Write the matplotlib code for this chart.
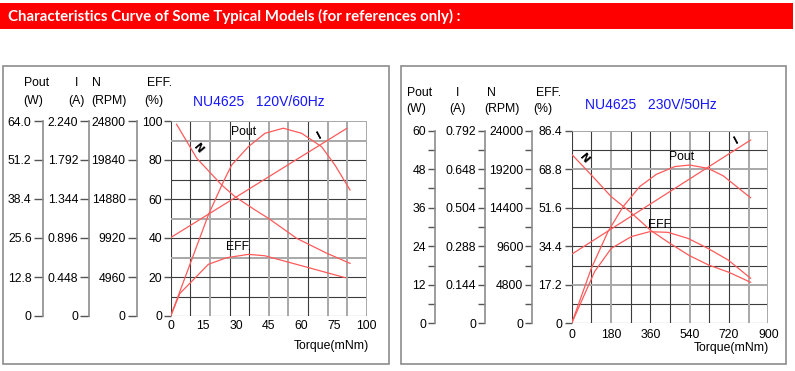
import matplotlib
matplotlib.use('Agg')
import matplotlib.pyplot as plt
import numpy as np
from matplotlib.patches import Rectangle

"""## Globals"""

W, H = 795, 371
NARROW = ['Liberation Sans Narrow', 'Liberation Sans', 'DejaVu Sans']
FS = 8.8
CURVE_COLOR = '#ff5a5a'
DARK_GRID = '#3c3c3c'
GREY_GRID = '#a8a8a8'

HEADER = 'Characteristics Curve of Some Typical Models (for references only) :'

# 120V/60Hz chart (x in chart units, one grid column = 10)
lv_title = 'NU4625   120V/60Hz'
lv_x_ticks = ['0', '15', '30', '45', '60', '75', '100']
lv_pout_scale = ['0', '12.8', '25.6', '38.4', '51.2', '64.0']
lv_i_scale = ['0', '0.448', '0.896', '1.344', '1.792', '2.240']
lv_n_scale = ['0', '4960', '9920', '14880', '19840', '24800']
lv_eff_scale = ['0', '20', '40', '60', '80', '100']

lv_n_x = [3, 13.3, 26, 32.8, 43, 50, 64.3, 79.6, 91.5]
lv_n_y = [98.3, 80.9, 67.2, 61.2, 54.4, 50, 39.8, 32.2, 27]
lv_i_x = [0, 89.8]
lv_i_y = [40.2, 96.2]
lv_pout_x = [0, 9.8, 19.2, 26.9, 31.1, 39.6, 48.1, 57.4, 66.8, 77, 83.8, 91.5]
lv_pout_y = [0, 26.4, 51.8, 68.9, 77.4, 86.8, 93.7, 96.3, 93.7, 86.8, 77.4, 64.6]
lv_eff_x = [0, 4.7, 9.8, 19.2, 28.6, 39.6, 48, 68.5, 88.9]
lv_eff_y = [0, 11.6, 16.8, 26.5, 29.9, 31.6, 30.9, 25.3, 19.7]

# 230V/50Hz chart (x in mNm, y on the EFF scale 0..86.4)
hv_title = 'NU4625   230V/50Hz'
hv_x_ticks = ['0', '180', '360', '540', '720', '900']
hv_pout_scale = ['0', '12', '24', '36', '48', '60']
hv_i_scale = ['0', '0.144', '0.288', '0.504', '0.648', '0.792']
hv_n_scale = ['0', '4800', '9600', '14400', '19200', '24000']
hv_eff_scale = ['0', '17.2', '34.4', '51.6', '68.8', '86.4']

hv_n_t = [0, 90, 181, 270, 360, 449, 540, 628, 719, 819]
hv_n_y = [75.8, 66.5, 56.8, 49.8, 41.8, 35.9, 30.3, 26.1, 22.9, 18.4]
hv_i_t = [0, 819]
hv_i_y = [31.0, 82.2]
hv_pout_t = [0, 90, 166, 235, 311, 387, 472, 540, 624, 693, 819]
hv_pout_y = [0, 24.7, 41.1, 52.3, 61.3, 66.8, 70.3, 71.0, 69.5, 66.2, 56.3]
hv_eff_t = [0, 105, 181, 273, 357, 441, 532, 624, 716, 819]
hv_eff_y = [0, 23.2, 33.6, 38.9, 41.1, 40.8, 38.1, 33.6, 28.4, 20.2]


def px_rect(left, top, right, bottom):
  return [left / W, 1 - bottom / H, (right - left) / W, (bottom - top) / H]


def add_scale(fig, x, top, bottom, labels, minor, ticklen):
  ax = fig.add_axes(px_rect(x, top, x + 1, bottom))
  ax.set_xlim(0, 1)
  ax.set_ylim(0, 1)
  for s in ['top', 'right', 'bottom']:
    ax.spines[s].set_visible(False)
  ax.spines['left'].set_color('#8c8c8c')
  ax.spines['left'].set_linewidth(1.2)
  ax.set_xticks([])
  ax.set_yticks(np.linspace(0, 1, len(labels)))
  ax.set_yticklabels(labels, fontsize=FS, family=NARROW)
  if minor:
    ax.set_yticks(np.linspace(0, 1, 2 * len(labels) - 1), minor=True)
  ax.tick_params(axis='y', which='both', length=ticklen, width=1, color='#555555', pad=1.5)
  ax.patch.set_visible(False)
  return ax


def draw_grid(ax, xmax, ymax, grey_cols, grey_rows):
  for k in range(11):
    c = GREY_GRID if k in grey_cols else DARK_GRID
    lw = 1.4 if k in grey_cols else 0.8
    ax.axvline(xmax * k / 10, color=c, lw=lw, zorder=1)
    c = GREY_GRID if k in grey_rows else DARK_GRID
    lw = 1.4 if k in grey_rows else 0.8
    ax.axhline(ymax * k / 10, color=c, lw=lw, zorder=1)


fig = plt.figure(figsize=(W / 100, H / 100), dpi=100)

# Red header band
fig.add_artist(Rectangle((0, 1 - 29 / H), 793 / W, 26 / H, transform=fig.transFigure,
                         color='#ff0000', lw=0))
fig.text(8 / W, 1 - 16.5 / H, HEADER, color='white', fontsize=10.8, fontweight='bold',
         family=['Lato', 'DejaVu Sans'], va='center', ha='left')

# Panel frames
for (l, t, r, b) in [(3, 65.5, 389, 364), (401, 65.5, 786, 364)]:
  fig.add_artist(Rectangle((l / W, 1 - b / H), (r - l) / W, (b - t) / H,
                           transform=fig.transFigure, fill=False, ec='#8c8c8c', lw=1.2))

"""## Left panel"""

top, bottom = 121, 316
add_scale(fig, 42.7, top, bottom, lv_pout_scale, False, 6.5)
add_scale(fig, 89.3, top, bottom, lv_i_scale, False, 6.5)
add_scale(fig, 136.7, top, bottom, lv_n_scale, False, 6.5)

ax = fig.add_axes(px_rect(170.7, top, 366.7, bottom))
ax.set_xlim(0, 100)
ax.set_ylim(0, 100)
draw_grid(ax, 100, 100, [2, 5, 6, 8, 9, 10], [3, 5, 9, 10])
for s in ax.spines.values():
  s.set_visible(False)
ax.set_yticks(np.linspace(0, 100, len(lv_eff_scale)))
ax.set_yticklabels(lv_eff_scale, fontsize=FS, family=NARROW)
ax.set_xticks(np.linspace(0, 100, len(lv_x_ticks)))
ax.set_xticklabels(lv_x_ticks, fontsize=FS, family=NARROW)
ax.tick_params(axis='y', length=5, width=1, color='#555555', pad=1)
ax.tick_params(axis='x', length=0, pad=3.2)

for xs, ys in [(lv_n_x, lv_n_y), (lv_i_x, lv_i_y), (lv_pout_x, lv_pout_y), (lv_eff_x, lv_eff_y)]:
  ax.plot(xs, ys, color=CURVE_COLOR, lw=0.9, zorder=3)

ax.text(14, 86, 'N', fontsize=8, fontweight='bold', rotation=-50, ha='center', va='center', zorder=4)
ax.text(76, 92.8, 'I', fontsize=8, fontweight='bold', rotation=28, ha='center', va='center', zorder=4)
ax.text(37.4, 94.5, 'Pout', fontsize=FS, family=NARROW, ha='center', va='center', zorder=4)
ax.text(34.5, 35.5, 'EFF.', fontsize=FS, family=NARROW, ha='center', va='center', zorder=4)

fig.text(192.7 / W, 1 - 101.7 / H, lv_title, color='#1515ff', fontsize=10, family=NARROW,
         ha='left', va='center')
fig.text(369 / W, 1 - 346 / H, 'Torque(mNm)', fontsize=FS, family=NARROW, ha='right', va='center')

for txt, x, y in [('Pout', 36.7, 82.7), ('(W)', 33, 100.7), ('I', 76.7, 82.7), ('(A)', 76.7, 100.7),
                  ('N', 96.7, 82.7), ('(RPM)', 109.3, 100.7), ('EFF.', 160, 82.7), ('(%)', 154.3, 100.7)]:
  fig.text(x / W, 1 - y / H, txt, fontsize=FS, family=NARROW, ha='center', va='center')

"""## Right panel"""

top, bottom = 130.7, 323.3
add_scale(fig, 435, top, bottom, hv_pout_scale, True, 5)
add_scale(fig, 485, top, bottom, hv_i_scale, True, 5)
add_scale(fig, 532.3, top, bottom, hv_n_scale, True, 5)

ax = fig.add_axes(px_rect(571.7, top, 768.3, bottom))
ax.set_xlim(0, 900)
ax.set_ylim(0, 86.4)
draw_grid(ax, 900, 86.4, [2, 6, 9, 10], [2, 8, 10])
for s in ax.spines.values():
  s.set_visible(False)
ax.set_yticks(np.linspace(0, 86.4, len(hv_eff_scale)))
ax.set_yticklabels(hv_eff_scale, fontsize=FS, family=NARROW)
ax.set_xticks(np.linspace(0, 900, len(hv_x_ticks)))
ax.set_xticklabels(hv_x_ticks, fontsize=FS, family=NARROW)
ax.tick_params(axis='y', length=5, width=1, color='#555555', pad=2)
ax.tick_params(axis='x', length=0, pad=4)

for xs, ys in [(hv_n_t, hv_n_y), (hv_i_t, hv_i_y), (hv_pout_t, hv_pout_y), (hv_eff_t, hv_eff_y)]:
  ax.plot(xs, ys, color=CURVE_COLOR, lw=0.9, zorder=3)

ax.text(59, 74, 'N', fontsize=8, fontweight='bold', rotation=-50, ha='center', va='center', zorder=4)
ax.text(754, 82.2, 'I', fontsize=8, fontweight='bold', rotation=28, ha='center', va='center', zorder=4)
ax.text(502, 74.5, 'Pout', fontsize=FS, family=NARROW, ha='center', va='center', zorder=4)
ax.text(407, 44.1, 'EFF.', fontsize=FS, family=NARROW, ha='center', va='center', zorder=4)

fig.text(585 / W, 1 - 105 / H, hv_title, color='#1515ff', fontsize=10, family=NARROW,
         ha='left', va='center')
fig.text(769.3 / W, 1 - 348 / H, 'Torque(mNm)', fontsize=FS, family=NARROW, ha='right', va='center')

for txt, x, y in [('Pout', 420, 93.3), ('(W)', 415.7, 109.3), ('I', 457.3, 93.3), ('(A)', 457.3, 109.3),
                  ('N', 491, 93.3), ('(RPM)', 502.3, 109.3), ('EFF.', 548.3, 93.3), ('(%)', 543.3, 109.3)]:
  fig.text(x / W, 1 - y / H, txt, fontsize=FS, family=NARROW, ha='center', va='center')

fig.savefig('out.png', dpi=100)
